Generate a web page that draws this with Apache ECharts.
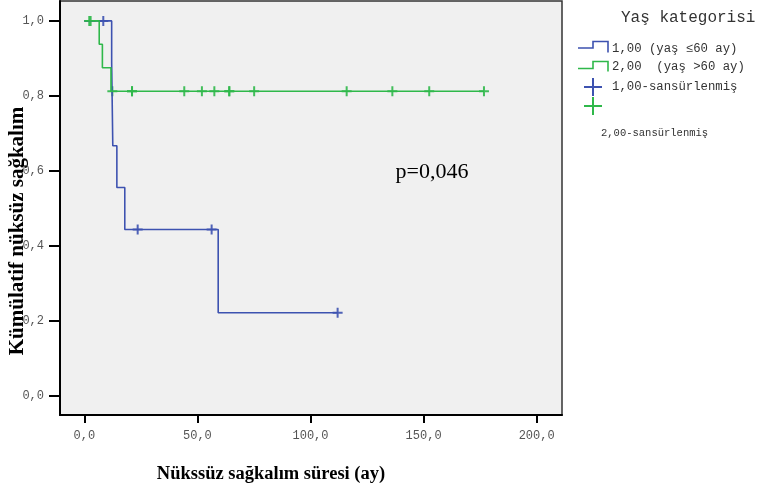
<!DOCTYPE html>
<html>
<head>
<meta charset="utf-8">
<script src="https://cdn.jsdelivr.net/npm/echarts@6/dist/echarts.min.js"></script>
<style>html,body{margin:0;padding:0;background:#fff}#c{width:760px;height:494px}</style>
</head>
<body>
<div id="c"></div>
<script>
// Kaplan-Meier steps (time in months, survival)
var blueTimes = [0, 12.1, 12.6, 14.4, 17.9, 59.2, 112];
var blueSurv  = [1, 0.889, 0.667, 0.556, 0.444, 0.222, 0.222];
var greenTimes = [0, 6.6, 8.0, 11.8, 176.7];
var greenSurv  = [1, 0.9375, 0.875, 0.8125, 0.8125];
// censored observations
var blueCensTimes = [8.4, 23.6, 56.3, 112];
var blueCensSurv  = [1, 0.444, 0.444, 0.222];
var greenCensTimes = [2.2, 2.8, 12.4, 21.1, 21.1, 44.2, 52.0, 57.5, 64.1, 64.1, 75.1, 116, 136.2, 152.5, 176.7];
var greenCensSurv  = [1, 1, 0.8125, 0.8125, 0.8125, 0.8125, 0.8125, 0.8125, 0.8125, 0.8125, 0.8125, 0.8125, 0.8125, 0.8125, 0.8125];
// tick labels
var xTicks = [0, 50, 100, 150, 200];
var yTicks = [0, 0.2, 0.4, 0.6, 0.8, 1.0];
var seriesNames = ['1,00 (yaş ≤60 ay)', '2,00  (yaş >60 ay)', '1,00-sansürlenmiş', '2,00-sansürlenmiş'];
var legendTitle = 'Yaş kategorisi';
var xTitle = 'Nükssüz sağkalım süresi (ay)';
var yTitle = 'Kümülatif nüksüz sağkalım';
var pText = 'p=0,046';

var BLUE = '#3d52b0', GREEN = '#2fb84a';
function zip(a, b) { return a.map(function (v, i) { return [v, b[i]]; }); }
function comma(v) { return v.toFixed(1).replace('.', ','); }
var plus = 'path://M4,0h2v10h-2zM0,4h10v2h-10z';
var mono = 'Liberation Mono';

var chart = echarts.init(document.getElementById('c'), null, {renderer: 'canvas'});
chart.setOption({
  animation: false,
  backgroundColor: '#ffffff',
  grid: {left: 60, top: 1, right: 198, bottom: 79, show: true, backgroundColor: '#f0f0f0', borderColor: '#333', borderWidth: 1.5},
  xAxis: {
    type: 'value', min: -10.74, max: 211.2,
    axisLine: {show: true, onZero: false, lineStyle: {color: '#000', width: 2}},
    axisTick: {show: true, customValues: xTicks, length: 8, lineStyle: {color: '#000', width: 2}},
    axisLabel: {customValues: xTicks, formatter: comma, fontFamily: mono, fontSize: 12, color: '#555', margin: 15},
    splitLine: {show: false}
  },
  yAxis: {
    type: 'value', min: -0.0507, max: 1.053,
    axisLine: {show: true, onZero: false, lineStyle: {color: '#000', width: 2}},
    axisTick: {show: true, customValues: yTicks, length: 11, lineStyle: {color: '#000', width: 2}},
    axisLabel: {customValues: yTicks, formatter: comma, fontFamily: mono, fontSize: 12, color: '#555', margin: 16},
    splitLine: {show: false}
  },
  series: [
    {name: seriesNames[0], type: 'line', step: 'end', data: zip(blueTimes, blueSurv), showSymbol: false, symbol: 'none', lineStyle: {color: BLUE, width: 1.6}, itemStyle: {color: BLUE}},
    {name: seriesNames[1], type: 'line', step: 'end', data: zip(greenTimes, greenSurv), showSymbol: false, symbol: 'none', lineStyle: {color: GREEN, width: 1.6}, itemStyle: {color: GREEN}},
    {name: seriesNames[2], type: 'scatter', data: zip(blueCensTimes, blueCensSurv), symbol: plus, symbolSize: [10, 10], itemStyle: {color: BLUE, opacity: 0.9}},
    {name: seriesNames[3], type: 'scatter', data: zip(greenCensTimes, greenCensSurv), symbol: plus, symbolSize: [10, 10], itemStyle: {color: GREEN, opacity: 0.9}}
  ],
  graphic: [
    {type: 'text', left: 621, top: 10, style: {text: legendTitle, font: '16px "Liberation Mono"', fill: '#333'}},
    {type: 'polyline', shape: {points: [[578, 48], [593, 48], [593, 41.5], [608, 41.5], [608, 52.5]]}, style: {stroke: BLUE, lineWidth: 1.6, fill: null}},
    {type: 'text', x: 612, y: 49, style: {text: seriesNames[0], font: '12.3px "Liberation Mono"', fill: '#333', verticalAlign: 'middle'}},
    {type: 'polyline', shape: {points: [[578, 68.5], [593, 68.5], [593, 61.5], [608, 61.5], [608, 71.5]]}, style: {stroke: GREEN, lineWidth: 1.6, fill: null}},
    {type: 'text', x: 612, y: 67, style: {text: seriesNames[1], font: '12.3px "Liberation Mono"', fill: '#333', verticalAlign: 'middle'}},
    {type: 'polyline', shape: {points: [[584, 87], [602, 87]]}, style: {stroke: BLUE, lineWidth: 2}},
    {type: 'polyline', shape: {points: [[593, 78], [593, 96]]}, style: {stroke: BLUE, lineWidth: 2}},
    {type: 'text', x: 612, y: 87, style: {text: seriesNames[2], font: '12.3px "Liberation Mono"', fill: '#333', verticalAlign: 'middle'}},
    {type: 'polyline', shape: {points: [[584, 106], [602, 106]]}, style: {stroke: GREEN, lineWidth: 2}},
    {type: 'polyline', shape: {points: [[593, 97], [593, 115]]}, style: {stroke: GREEN, lineWidth: 2}},
    {type: 'text', x: 601, y: 133, style: {text: seriesNames[3], font: '10.5px "Liberation Mono"', fill: '#333', verticalAlign: 'middle'}},
    {type: 'text', x: 432, y: 172, style: {text: pText, font: '22px "Liberation Serif"', fill: '#000', align: 'center', verticalAlign: 'middle'}},
    {type: 'text', x: 271, y: 474, style: {text: xTitle, font: 'bold 18.5px "Liberation Serif"', fill: '#000', align: 'center', verticalAlign: 'middle'}},
    {type: 'text', x: 18, y: 231, rotation: Math.PI / 2, style: {text: yTitle, font: 'bold 21px "Liberation Serif"', fill: '#000', align: 'center', verticalAlign: 'middle'}}
  ]
});
</script>
</body>
</html>
